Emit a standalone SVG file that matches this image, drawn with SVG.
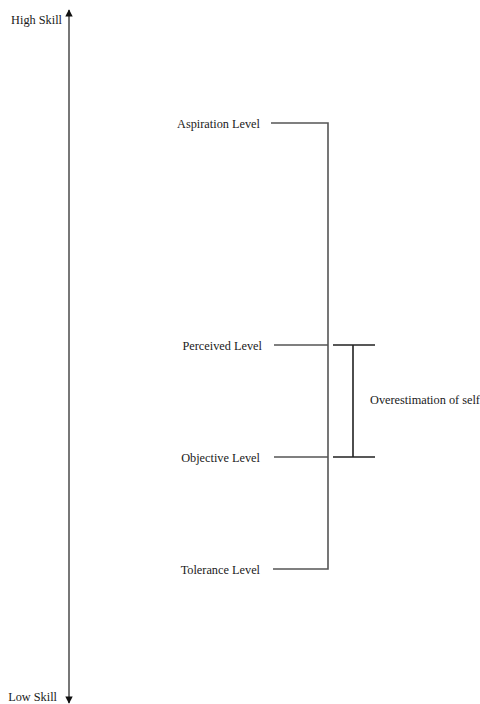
<svg xmlns="http://www.w3.org/2000/svg" width="480" height="704" viewBox="0 0 480 704">
<style>
text{font-family:"Liberation Serif","DejaVu Serif",serif;font-size:12.3px;fill:#1a1a1a}
.ln{stroke:#555;stroke-width:1.6;fill:none}
.br{stroke:#222;stroke-width:1.6;fill:none}
</style>
<defs>
<marker id="ah" viewBox="0 0 10 10" refX="9" refY="5" markerWidth="8" markerHeight="4.6" orient="auto" markerUnits="strokeWidth">
<path d="M0,0 L10,5 L0,10 Z" fill="#111"/>
</marker>
</defs>
<rect width="480" height="704" fill="#fff"/>
<g id="connectors">
<line class="ln" x1="69" y1="360" x2="69" y2="10" marker-end="url(#ah)"/>
<line class="ln" x1="69" y1="360" x2="69" y2="703" marker-end="url(#ah)"/>
<polyline class="ln" points="271,123 328,123 328,569 273,569"/>
<line class="ln" x1="274" y1="345" x2="328" y2="345"/>
<line class="ln" x1="274" y1="457" x2="328" y2="457"/>
<path class="br" d="M333,345 H375 M333,457 H375 M353,345 V457"/>
</g>
<g id="high-skill"><text x="62" y="24" text-anchor="end">High Skill</text></g>
<g id="low-skill"><text x="57" y="701" text-anchor="end">Low Skill</text></g>
<g id="aspiration"><text x="260" y="128" text-anchor="end">Aspiration Level</text></g>
<g id="perceived"><text x="262" y="350" text-anchor="end">Perceived Level</text></g>
<g id="objective"><text x="260" y="462" text-anchor="end">Objective Level</text></g>
<g id="tolerance"><text x="260" y="574" text-anchor="end">Tolerance Level</text></g>
<g id="overestimation"><text x="370" y="404">Overestimation of self</text></g>
</svg>
